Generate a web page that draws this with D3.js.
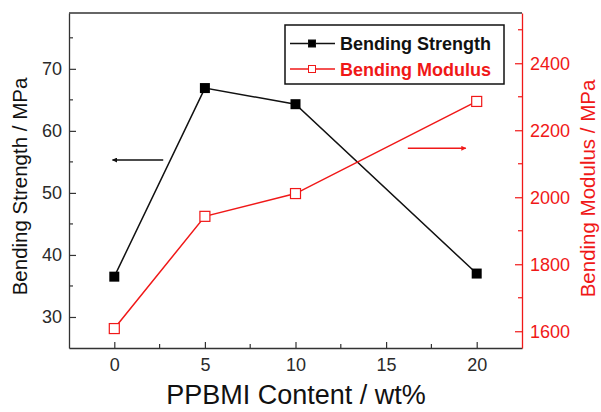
<!DOCTYPE html>
<html>
<head>
<meta charset="utf-8">
<script src="https://cdn.jsdelivr.net/npm/d3@7"></script>
<style>
  body { margin: 0; background: #fff; }
  svg { display: block; font-family: "Liberation Sans", Arial, sans-serif; }
</style>
</head>
<body>
<div id="chart"></div>
<script>
// ── Data ─────────────────────────────────────
const contents  = [0, 5, 10, 20];
const strength  = [36.5, 66.9, 64.3, 37.0];
const modulus   = [1608, 1943, 2011, 2286];
const xTicks    = [0, 5, 10, 15, 20];
const yLTicks   = [30, 40, 50, 60, 70];
const yRTicks   = [1600, 1800, 2000, 2200, 2400];

const W = 601, H = 412;
const m = { left: 69, right: 522, top: 13, bottom: 348 };
const RED = "#f01818";

const svg = d3.select("#chart").append("svg")
  .attr("width", W).attr("height", H);

const x  = d3.scaleLinear().domain([-2.5, 22.5]).range([m.left, m.right]);
const yL = d3.scaleLinear().domain([25, 79]).range([m.bottom, m.top]);
const yR = d3.scaleLinear().domain([1550, 2550]).range([m.bottom, m.top]);

// ── Frame top ────────────────────────────────
svg.append("line")
  .attr("x1", m.left).attr("x2", m.right).attr("y1", m.top).attr("y2", m.top)
  .attr("stroke", "#333").attr("stroke-width", 1.3);

// ── Axes ──────────────────────────────────────
function styleAxis(g, color, txtColor) {
  g.select(".domain").attr("stroke", color).attr("stroke-width", 1.3);
  g.selectAll(".tick line").attr("stroke", color).attr("stroke-width", 1.2);
  g.selectAll(".tick text")
    .attr("fill", txtColor)
    .attr("font-size", "18px")
    .attr("font-family", "'Liberation Sans', Arial, sans-serif");
}

// minor ticks
function minor(axisG, scale, values, orient, color) {
  axisG.selectAll(".minor")
    .data(values)
    .join("line")
    .attr("stroke", color).attr("stroke-width", 1.2)
    .each(function(d) {
      const s = d3.select(this);
      if (orient === "bottom") s.attr("x1", scale(d)).attr("x2", scale(d)).attr("y1", 0).attr("y2", -4);
      if (orient === "left")   s.attr("y1", scale(d)).attr("y2", scale(d)).attr("x1", 0).attr("x2", 4);
      if (orient === "right")  s.attr("y1", scale(d)).attr("y2", scale(d)).attr("x1", 0).attr("x2", -4);
    });
}

const gx = svg.append("g")
  .attr("transform", `translate(0,${m.bottom})`)
  .call(d3.axisBottom(x).tickValues(xTicks).tickSize(-6).tickPadding(10).tickSizeOuter(0));
styleAxis(gx, "#333", "#2a2a2a");
minor(gx, x, [2.5, 7.5, 12.5, 17.5], "bottom", "#333");

const gl = svg.append("g")
  .attr("transform", `translate(${m.left},0)`)
  .call(d3.axisLeft(yL).tickValues(yLTicks).tickSize(-7).tickPadding(7).tickSizeOuter(0));
styleAxis(gl, "#333", "#2a2a2a");
minor(gl, yL, [35, 45, 55, 65, 75], "left", "#333");

const gr = svg.append("g")
  .attr("transform", `translate(${m.right},0)`)
  .call(d3.axisRight(yR).tickValues(yRTicks).tickFormat(d3.format("d"))
    .tickSize(-7).tickPadding(8).tickSizeOuter(0));
styleAxis(gr, RED, RED);
minor(gr, yR, [1700, 1900, 2100, 2300, 2500], "right", RED);

// ── Axis titles ──────────────────────────────
svg.append("text")
  .attr("x", 296).attr("y", 404)
  .attr("text-anchor", "middle")
  .attr("font-size", "27px").attr("fill", "#111")
  .text("PPBMI Content / wt%");

svg.append("text")
  .attr("transform", "translate(27,186.5) rotate(-90)")
  .attr("text-anchor", "middle")
  .attr("font-size", "20.5px").attr("fill", "#111")
  .text("Bending Strength / MPa");

svg.append("text")
  .attr("transform", "translate(595,188.5) rotate(-90)")
  .attr("text-anchor", "middle")
  .attr("font-size", "20.5px").attr("fill", RED)
  .text("Bending Modulus / MPa");

// ── Series ───────────────────────────────────
const sData = contents.map((c, i) => ({ x: c, y: strength[i] }));
const mData = contents.map((c, i) => ({ x: c, y: modulus[i] }));

svg.append("path")
  .datum(sData)
  .attr("fill", "none").attr("stroke", "#111").attr("stroke-width", 1.5)
  .attr("d", d3.line().x(d => x(d.x)).y(d => yL(d.y)));

svg.append("path")
  .datum(mData)
  .attr("fill", "none").attr("stroke", RED).attr("stroke-width", 1.5)
  .attr("d", d3.line().x(d => x(d.x)).y(d => yR(d.y)));

const S = 10;
svg.selectAll(".sq-s")
  .data(sData).join("rect")
  .attr("x", d => x(d.x) - S / 2).attr("y", d => yL(d.y) - S / 2)
  .attr("width", S).attr("height", S)
  .attr("fill", "#000");

svg.selectAll(".sq-m")
  .data(mData).join("rect")
  .attr("x", d => x(d.x) - S / 2).attr("y", d => yR(d.y) - S / 2)
  .attr("width", S).attr("height", S)
  .attr("fill", "#fff").attr("stroke", RED).attr("stroke-width", 1.2);

// ── Arrows ───────────────────────────────────
const defs = svg.append("defs");
[["ah-k", "#111"], ["ah-r", RED]].forEach(([id, c]) => {
  defs.append("marker").attr("id", id)
    .attr("viewBox", "0 0 10 10").attr("refX", 9).attr("refY", 5)
    .attr("markerWidth", 8).attr("markerHeight", 5)
    .attr("markerUnits", "userSpaceOnUse").attr("orient", "auto")
    .append("path").attr("d", "M0,0 L10,5 L0,10 Z").attr("fill", c);
});
svg.append("line")
  .attr("x1", x(2.7)).attr("x2", x(-0.1)).attr("y1", yL(55.3)).attr("y2", yL(55.3))
  .attr("stroke", "#111").attr("stroke-width", 1.5).attr("marker-end", "url(#ah-k)");
svg.append("line")
  .attr("x1", x(16.2)).attr("x2", x(19.4)).attr("y1", yR(2146)).attr("y2", yR(2146))
  .attr("stroke", RED).attr("stroke-width", 1.5).attr("marker-end", "url(#ah-r)");

// ── Legend ───────────────────────────────────
const lg = svg.append("g");
lg.append("rect")
  .attr("x", 285).attr("y", 25).attr("width", 219).attr("height", 59)
  .attr("fill", "#fff").attr("stroke", "#111").attr("stroke-width", 1.5);

const legendItems = [
  { label: "Bending Strength", color: "#111", fill: "#000", y: 43.5 },
  { label: "Bending Modulus",  color: RED,    fill: "#fff", y: 69 }
];
legendItems.forEach(d => {
  lg.append("line")
    .attr("x1", 290).attr("x2", 335).attr("y1", d.y).attr("y2", d.y)
    .attr("stroke", d.color).attr("stroke-width", 1.5);
  lg.append("rect")
    .attr("x", 312 - 3.5).attr("y", d.y - 3.5).attr("width", 7).attr("height", 7)
    .attr("fill", d.fill).attr("stroke", d.color).attr("stroke-width", 1);
  lg.append("text")
    .attr("x", 340).attr("y", d.y + 6.5)
    .attr("font-size", "18px").attr("font-weight", "bold")
    .attr("fill", d.color)
    .text(d.label);
});
</script>
</body>
</html>
